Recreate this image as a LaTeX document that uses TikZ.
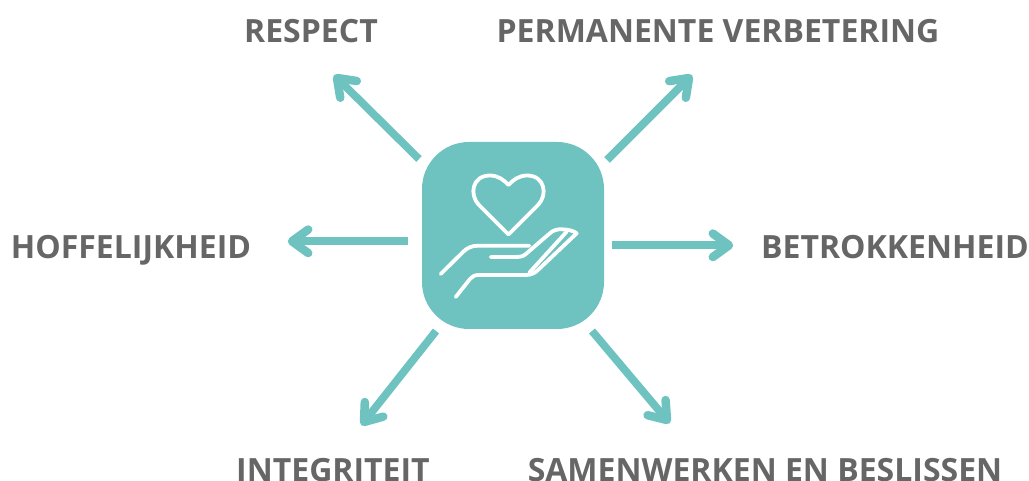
\documentclass[tikz,border=0pt]{standalone}
\usepackage{fontspec}
\setmainfont{Open Sans}
\usetikzlibrary{calc}
\definecolor{teal1}{HTML}{6EC3C0}
\definecolor{gray1}{HTML}{666666}
\tikzset{
  lab/.style={font=\fontsize{32}{36}\selectfont\bfseries,text=gray1,inner sep=0pt,anchor=base},
  ray/.style={draw=teal1,line width=7.8pt},
  barb/.style={draw=teal1,line width=8.5pt,line cap=round,line join=round},
  panel/.style={fill=teal1,rounded corners=47pt,inner sep=0pt,minimum width=182pt,minimum height=187pt},
  icon/.style={draw=white,line width=3.8pt,line cap=round,line join=round}
}
\newcommand{\rayarrow}[2]{%
  \draw[ray] (#1) -- (#2);
  \draw[barb] ($(#2)!20pt!-36:(#1)$) -- (#2) -- ($(#2)!20pt!36:(#1)$);
}
\begin{document}
\begin{tikzpicture}[x=1pt,y=-1pt]
\useasboundingbox (0,0) rectangle (1029,481);
\node[panel] (box) at (513,235.5) {};
\node[lab] (respect) at (311,42.6) {RESPECT};
\node[lab] (perm) at (718,42.6) {PERMANENTE VERBETERING};
\node[lab] (hoff) at (131,258.6) {HOFFELIJKHEID};
\node[lab] (betro) at (895,258.6) {BETROKKENHEID};
\node[lab] (integ) at (333,481) {INTEGRITEIT};
\node[lab] (samen) at (765,481) {SAMENWERKEN EN BESLISSEN};
\coordinate (s1) at (419,159); \coordinate (t1) at (337,78);
\coordinate (s2) at (607,160); \coordinate (t2) at (689,78);
\coordinate (s3) at (408,241.3); \coordinate (t3) at (292,241.3);
\coordinate (s4) at (612,245.3); \coordinate (t4) at (729,245.3);
\coordinate (s5) at (436,331); \coordinate (t5) at (364,422);
\coordinate (s6) at (592,331); \coordinate (t6) at (667,420);
\rayarrow{s1}{t1}
\rayarrow{s2}{t2}
\rayarrow{s3}{t3}
\rayarrow{s4}{t4}
\rayarrow{s5}{t5}
\rayarrow{s6}{t6}
% heart
\draw[icon] (508.5,234.5) -- (479,205) .. controls (469,195) and (472,175.5) .. (490,175.5) .. controls (498,175.5) and (504,180) .. (508.5,185)
  .. controls (513,180) and (519,175.5) .. (527,175.5) .. controls (545,175.5) and (548,195) .. (538,205) -- cycle;
% hand
\draw[icon] (440.7,274) -- (463.3,251.7) .. controls (467,248) and (472,245.7) .. (478,245.7) -- (529.3,245.7);
\draw[icon] (490.7,257) -- (516,257) .. controls (521,257) and (524,256) .. (527,253) -- (549,234) .. controls (553,230) and (558,229) .. (562,229.3) .. controls (568,229.5) and (573,230.5) .. (576.7,233.3)
  -- (538,270) .. controls (535,273) and (531,275) .. (526,275) -- (478.3,275) .. controls (474,275) and (472,277) .. (470,279) -- (455.7,297);
\draw[icon] (566.7,231.7) -- (529.3,272.7);
\end{tikzpicture}
\end{document}
